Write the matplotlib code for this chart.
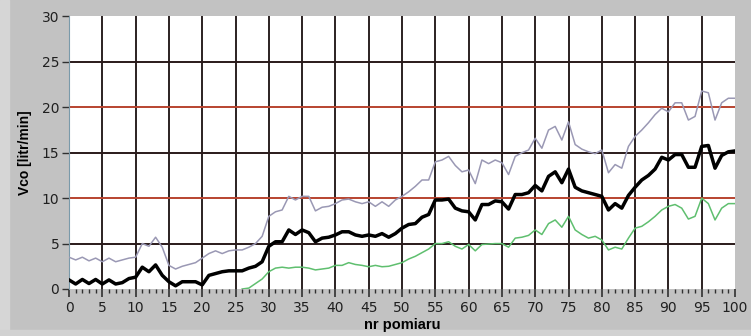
import matplotlib.pyplot as plt
import numpy as np
from matplotlib.patches import Rectangle

# measurement number 0..100
nr = np.arange(0, 101)

vco_mid = [1.0, 0.55, 1.05, 0.6, 1.05, 0.55, 1.0, 0.55, 0.7, 1.15,
           1.3, 2.4, 1.9, 2.65, 1.5, 0.8, 0.35, 0.8, 0.8, 0.8,
           0.45, 1.5, 1.7, 1.9, 2.0, 2.0, 2.0, 2.3, 2.5, 3.0,
           4.7, 5.2, 5.2, 6.5, 6.0, 6.5, 6.2, 5.2, 5.6, 5.7,
           5.95, 6.3, 6.3, 5.95, 5.8, 5.95, 5.8, 6.1, 5.7, 6.1,
           6.7, 7.1, 7.2, 7.9, 8.2, 9.8, 9.8, 9.9, 8.9, 8.6,
           8.5, 7.6, 9.3, 9.3, 9.7, 9.6, 8.8, 10.4, 10.4, 10.6,
           11.4, 10.8, 12.4, 12.9, 11.7, 13.2, 11.2, 10.8, 10.6, 10.4,
           10.2, 8.7, 9.4, 8.9, 10.3, 11.2, 12.0, 12.5, 13.2, 14.5,
           14.2, 14.8, 14.8, 13.4, 13.4, 15.7, 15.8, 13.3, 14.7, 15.1,
           15.2]

vco_upper = [3.5, 3.2, 3.5, 3.1, 3.4, 3.0, 3.4, 3.0, 3.2, 3.4,
             3.5, 5.0, 4.7, 5.7, 4.6, 2.6, 2.2, 2.5, 2.7, 2.9,
             3.4, 3.9, 4.2, 3.9, 4.2, 4.3, 4.3, 4.6, 5.0, 5.8,
             8.0, 8.5, 8.7, 10.2, 9.8, 10.2, 10.2, 8.6, 9.0, 9.1,
             9.4, 9.8, 9.9, 9.6, 9.4, 9.6, 9.1, 9.6, 9.1, 9.8,
             10.2, 10.7, 11.3, 12.0, 12.0, 14.0, 14.2, 14.6, 13.6, 12.9,
             13.1, 11.6, 14.2, 13.8, 14.2, 13.9, 12.6, 14.6, 15.0, 15.3,
             16.6, 15.5, 17.5, 17.9, 16.4, 18.4, 15.9, 15.4, 15.1, 14.9,
             15.3, 12.8, 13.7, 13.3, 15.7, 16.8, 17.5, 18.3, 19.2, 19.9,
             19.5, 20.5, 20.5, 18.6, 19.0, 21.8, 21.6, 18.6, 20.5, 21.0,
             21.0]

# lower series starts at measurement 26
nr_lower = np.arange(26, 101)
vco_lower = [0.0, 0.1, 0.6, 1.1,
             1.9, 2.3, 2.4, 2.3, 2.4, 2.4, 2.3, 2.1, 2.2, 2.3,
             2.6, 2.6, 2.9, 2.7, 2.6, 2.45, 2.6, 2.45, 2.5, 2.7,
             2.9, 3.3, 3.6, 4.0, 4.4, 5.0, 5.0, 5.2, 4.7, 4.4,
             4.9, 4.2, 4.9, 4.95, 5.0, 5.0, 4.6, 5.6, 5.7, 5.9,
             6.5, 6.0, 7.2, 7.6, 6.8, 8.0, 6.5, 6.0, 5.6, 5.8,
             5.4, 4.3, 4.6, 4.4, 5.6, 6.7, 6.9, 7.4, 8.0, 8.7,
             9.1, 9.3, 8.9, 7.7, 8.0, 10.0, 9.4, 7.6, 8.9, 9.4,
             9.4]

x_ticks = np.arange(0, 101, 5)
y_ticks = np.arange(0, 31, 5)

plt.rcParams['font.family'] = ['Liberation Sans Narrow', 'DejaVu Sans']

fig = plt.figure(figsize=(7.51, 3.36), dpi=100, facecolor='#c2c2c2')
# lighter frame strips at the left and bottom of the panel
fig.patches.append(Rectangle((0, 0), 0.012, 1, transform=fig.transFigure,
                             color='#d6d6d6', zorder=-5))
fig.patches.append(Rectangle((0, 0), 1, 0.018, transform=fig.transFigure,
                             color='#d2d2d2', zorder=-5))

ax = fig.add_axes([0.0919, 0.1399, 0.8868, 0.811])
ax.set_facecolor('white')

# grid: vertical lines black, horizontal 10/20 reddish, rest dark
for x in x_ticks[1:-1]:
    ax.axvline(x, color='#1a1010', lw=1.3, zorder=1)
for y in y_ticks[1:-1]:
    col = '#b8432f' if y % 10 == 0 else '#2a1a1a'
    ax.axhline(y, color=col, lw=1.4, zorder=1)

ax.plot(nr, vco_upper, color='#9a98b4', lw=1.1, zorder=3)
ax.plot(nr_lower, vco_lower, color='#5fbf6f', lw=1.1, zorder=3)
ax.plot(nr, vco_mid, color='black', lw=2.5, zorder=4)

ax.set_xlim(0, 100)
ax.set_ylim(0, 30)
ax.set_xticks(x_ticks)
ax.set_xticks(np.arange(0, 101, 1), minor=True)
ax.set_yticks(y_ticks)

for s in ax.spines.values():
    s.set_visible(False)
ax.spines['left'].set_visible(True)
ax.spines['left'].set_color('#7a9aaa')
ax.spines['left'].set_linewidth(0.8)

ax.tick_params(axis='x', which='major', length=6, width=1.2, color='#303030',
               labelsize=10, labelcolor='#202020', pad=3, direction='out')
ax.tick_params(axis='x', which='minor', length=3, width=1.0, color='#303030',
               direction='out')
ax.tick_params(axis='y', which='major', length=5, width=1.0, color='#303030',
               labelsize=10, labelcolor='#202020', pad=2, direction='out')

ax.set_xlabel('nr pomiaru', fontsize=10.5, fontweight='bold', labelpad=2,
              family=['Liberation Sans'])
ax.set_ylabel('Vco [litr/min]', fontsize=10, fontweight='bold', labelpad=7,
              family=['Liberation Sans'])

fig.savefig('out.png', dpi=100, facecolor=fig.get_facecolor())
